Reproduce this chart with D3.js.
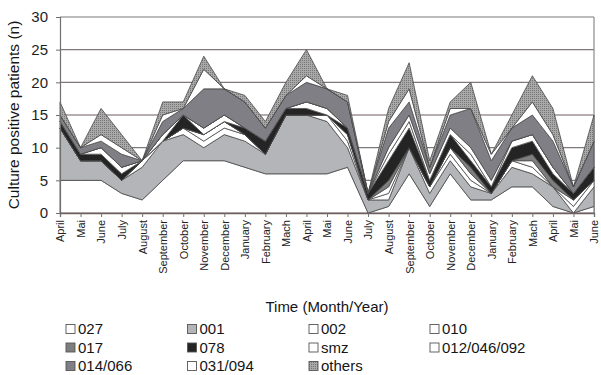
<!DOCTYPE html>
<html>
<head>
<meta charset="utf-8">
<script src="https://cdn.jsdelivr.net/npm/d3@7/dist/d3.min.js"></script>
<style>
  html, body { margin: 0; padding: 0; background: #fff; }
  svg { display: block; font-family: "Liberation Sans", Arial, sans-serif; }
</style>
</head>
<body>
<svg id="chart" width="601" height="375"></svg>
<script>
// Month labels along the time axis (April of year 1 to June of year 3)
const months = ["April","Mai","June","July","August","September","October","November","December","January","February","Mach",
                "April","Mai","June","July","August","September","October","November","December","January","February","Mach",
                "April","Mai","June"];

// Culture positive patients per month, by ribotype group
const s027   = [5,5,5,3,2,5,8,8,8,7,6,6,6,6,7,0,1,6,1,6,2,2,4,4,1,0,1];
const s001   = [8,3,3,2,5,6,4,2,4,4,3,9,9,8,3,2,1,4,2,2,2,1,3,2,3,0,3];
const s002   = [0,0,0,0,1,0,1,1,1,1,0,0,0,1,1,0,1,0,1,1,1,0,1,1,0,1,1];
const s010   = [0,0,0,0,0,0,0,1,1,0,0,0,0,0,1,0,1,0,0,1,1,0,0,1,0,1,0];
const s017   = [0,0,0,0,0,0,0,0,0,0,0,0,0,0,0,0,1,0,0,0,1,0,0,1,1,0,0];
const s078   = [1,1,1,1,0,0,2,0,0,1,2,1,1,0,1,1,3,3,1,2,1,1,2,2,1,1,2];
const sSmz   = [0,0,1,1,0,1,0,1,1,0,0,0,1,1,0,0,1,1,0,0,1,0,1,1,1,0,0];
const s012   = [0,0,0,0,0,0,0,0,0,0,0,0,0,0,0,0,1,1,1,1,1,1,0,0,0,0,0];
const s014   = [1,1,1,2,0,2,1,6,4,4,2,2,3,3,4,0,3,2,1,2,6,3,2,3,4,1,4];
const s031   = [0,0,1,1,0,1,0,3,0,0,0,0,1,0,0,0,1,2,0,1,0,1,0,2,1,0,0];
const sOther = [2,0,4,2,0,2,1,2,0,1,1,2,4,0,1,0,2,4,1,1,4,0,2,4,4,0,4];

const seriesNames  = ["027","001","002","010","017","078","smz","012/046/092","014/066","031/094","others"];
const seriesValues = [s027, s001, s002, s010, s017, s078, sSmz, s012, s014, s031, sOther];
const yTicks = [0,5,10,15,20,25,30];

const fills = {
  "027": "#ffffff", "001": "#b3b5b9", "002": "#ffffff", "010": "#ffffff",
  "017": "#7e7e7e", "078": "#242424", "smz": "#ffffff", "012/046/092": "#ffffff",
  "014/066": "#7f7f85", "031/094": "#ffffff", "others": "url(#dots)"
};

const svg = d3.select("#chart");

// dotted texture for the "others" group
const pat = svg.append("defs").append("pattern")
  .attr("id", "dots").attr("width", 2).attr("height", 2)
  .attr("patternUnits", "userSpaceOnUse");
pat.append("rect").attr("width", 2).attr("height", 2).attr("fill", "#a9a9a9");
pat.append("rect").attr("width", 1).attr("height", 1).attr("fill", "#767676");

const plotLeft = 60, plotRight = 594, plotTop = 17, plotBottom = 213;

const x = d3.scalePoint().domain(d3.range(months.length)).range([plotLeft, plotRight]);
const y = d3.scaleLinear().domain([0, 30]).range([plotBottom, plotTop]);

// table of rows for the stack layout
const rows = months.map((m, i) => {
  const r = { i };
  seriesNames.forEach((n, k) => { r[n] = seriesValues[k][i]; });
  return r;
});
const stacked = d3.stack().keys(seriesNames)(rows);

// horizontal gridlines
svg.append("g").selectAll("line").data(yTicks.filter(t => t > 0)).join("line")
  .attr("x1", plotLeft).attr("x2", plotRight)
  .attr("y1", d => y(d)).attr("y2", d => y(d))
  .attr("stroke", d => d === 15 ? "#6e5e5e" : "#7f7878").attr("stroke-width", 1.2);

// right border of the plot area
svg.append("line").attr("x1", plotRight).attr("x2", plotRight).attr("y1", plotTop).attr("y2", plotBottom)
  .attr("stroke", "#8a8a8a").attr("stroke-width", 1.2);

const area = d3.area()
  .x(d => x(d.data.i))
  .y0(d => y(d[0]))
  .y1(d => y(d[1]));

svg.append("g").selectAll("path").data(stacked).join("path")
  .attr("d", area)
  .attr("fill", d => fills[d.key])
  .attr("stroke", "#4a4a4a")
  .attr("stroke-width", 0.8)
  .attr("stroke-linejoin", "round");

// y axis
const yAxis = svg.append("g").attr("transform", `translate(${plotLeft},0)`)
  .call(d3.axisLeft(y).tickValues(yTicks).tickSize(4).tickPadding(8));
yAxis.select(".domain").attr("stroke", "#6f6f6f").attr("stroke-width", 1.2);
yAxis.selectAll(".tick line").attr("stroke", "#6f6f6f");
yAxis.selectAll("text").attr("font-size", 15).attr("fill", "#1e1e1e")
  .attr("font-family", "'Liberation Sans', Arial, sans-serif");

// x axis
const xAxis = svg.append("g").attr("transform", `translate(0,${plotBottom})`)
  .call(d3.axisBottom(x).tickSize(4).tickFormat(i => months[i]));
xAxis.select(".domain").attr("stroke", "#6f5f5f").attr("stroke-width", 1.3);
xAxis.selectAll(".tick line").attr("stroke", "#6f6f6f");
xAxis.selectAll("text")
  .attr("transform", "rotate(-90)")
  .attr("x", -7).attr("y", 0).attr("dy", "0.35em")
  .attr("text-anchor", "end")
  .attr("font-size", 11).attr("fill", "#222")
  .attr("font-family", "'Liberation Sans', Arial, sans-serif");

// axis titles
svg.append("text")
  .attr("transform", `translate(14,${(plotTop + plotBottom) / 2}) rotate(-90)`)
  .attr("text-anchor", "middle").attr("dy", "0.35em")
  .attr("font-size", 15.5).attr("fill", "#151515")
  .text("Culture positive patients (n)");

svg.append("text")
  .attr("x", (plotLeft + plotRight) / 2).attr("y", 312)
  .attr("text-anchor", "middle")
  .attr("font-size", 15).attr("fill", "#151515")
  .text("Time (Month/Year)");

// legend, four columns
const legend = svg.append("g");
const colX = [66, 187.5, 309, 430];
const rowY = [329, 347.5, 366];
seriesNames.forEach((n, k) => {
  const g = legend.append("g")
    .attr("transform", `translate(${colX[k % 4]},${rowY[Math.floor(k / 4)]})`);
  g.append("rect").attr("x", 0).attr("y", -4.5).attr("width", 9).attr("height", 9)
    .attr("fill", fills[n]).attr("stroke", "#555").attr("stroke-width", 0.9);
  g.append("text").attr("x", 12).attr("y", 0).attr("dy", "0.36em")
    .attr("font-size", 15).attr("fill", "#151515").text(n);
});
</script>
</body>
</html>
